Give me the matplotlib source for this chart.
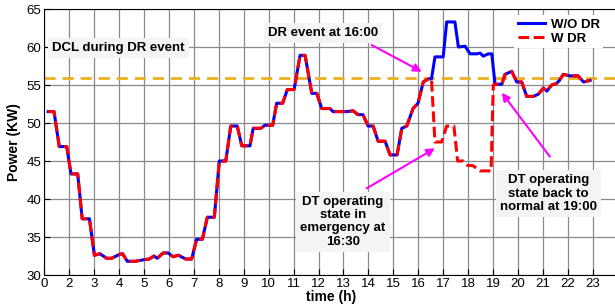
import numpy as np
import matplotlib
matplotlib.use('Agg')
from matplotlib import pyplot as plt

plt.rcParams['font.family'] = ['Liberation Sans', 'DejaVu Sans']

# x values are in axis grid units (one unit per tick label)
t_common1 = [0.16, 0.39, 0.60, 0.90, 1.07, 1.34, 1.52, 1.81, 2.01, 2.23, 2.50, 2.70,
             3.01, 3.14, 3.33, 3.64, 3.97, 4.21, 4.40, 4.53, 4.77, 4.97, 5.17, 5.38,
             5.67, 5.91, 6.11, 6.34, 6.54, 6.82, 7.02, 7.28, 7.48, 7.74, 7.92, 8.25,
             8.38, 8.68, 8.85, 9.16, 9.32, 9.56, 9.75, 10.02, 10.26, 10.46, 10.73, 10.93,
             11.13, 11.46, 11.58, 12.14, 12.39, 12.58, 12.78, 12.99, 13.19, 13.39, 13.67,
             13.87, 14.15, 14.34, 14.54, 14.79, 14.99, 15.20, 15.40, 15.53]
p_common1 = [51.5, 51.5, 46.9, 46.9, 43.3, 43.3, 37.4, 37.4, 32.6, 32.8, 32.2, 32.2,
             32.7, 32.8, 31.8, 31.8, 32.0, 32.1, 32.5, 32.2, 32.9, 32.9, 32.4, 32.6,
             32.1, 32.1, 34.7, 34.7, 37.6, 37.6, 45.0, 45.0, 49.6, 49.6, 47.0, 47.0,
             49.3, 49.3, 49.7, 49.7, 52.6, 52.6, 54.4, 54.4, 58.9, 58.9, 53.9, 53.9,
             51.9, 51.9, 51.5, 51.5, 51.6, 51.1, 51.1, 49.6, 49.6, 47.6, 47.6,
             45.8, 45.8, 49.3, 49.6, 51.9, 52.6, 55.4, 55.8, 55.8]

t_wo_event = [15.67, 16.00, 16.14, 16.47, 16.61, 16.88, 17.08, 17.35, 17.48, 17.61, 17.81, 17.95]
p_wo_event = [58.7, 58.7, 63.3, 63.3, 60.0, 60.1, 59.1, 59.1, 59.2, 58.8, 59.1, 59.1]

t_w_event = [15.67, 15.94, 16.14, 16.43, 16.58, 16.81, 16.99, 17.19, 17.48, 17.80, 17.92, 18.01]
p_w_event = [47.5, 47.5, 49.6, 49.6, 45.0, 45.0, 44.4, 44.4, 43.7, 43.7, 43.7, 55.0]

t_common2 = [18.08, 18.35, 18.48, 18.75, 18.95, 19.15, 19.35, 19.62, 19.82, 20.02, 20.16,
             20.35, 20.55, 20.66, 20.82, 21.09, 21.41, 21.63, 21.89]
p_common2 = [55.1, 55.1, 56.4, 56.8, 55.4, 55.4, 53.5, 53.5, 53.8, 54.6, 54.2,
             55.0, 55.2, 55.6, 56.4, 56.2, 56.2, 55.4, 55.6]

dcl = 55.9
tick_labels = ['0'] + [str(h) for h in range(2, 24)] + ['0']

t_wo = t_common1 + t_wo_event + t_common2
p_wo = p_common1 + p_wo_event + p_common2
t_w = t_common1 + t_w_event + t_common2
p_w = p_common1 + p_w_event + p_common2

fig = plt.figure(figsize=(6.15, 3.08), dpi=100)
ax = fig.add_axes([44.3 / 615, 33 / 308, 573.4 / 615, 266 / 308])

ax.grid(True, color='#8a8a8a', lw=0.9)
ax.set_axisbelow(True)
ax.axhline(dcl, color='#EDB120', lw=2, ls=(0, (4, 2.5)), zorder=2)
ax.plot(t_wo, p_wo, color='#0000ff', lw=2.2, label='W/O DR', zorder=3)
ax.plot(t_w, p_w, color='#ff0000', lw=2.2, ls=(0, (3.5, 1.5)), label='W DR', zorder=4)

ax.set_xlim(0, 23)
ax.set_ylim(30, 65)
ax.set_xticks(np.arange(0, 24))
ax.set_xticklabels(tick_labels)
ax.set_yticks(np.arange(30, 66, 5))
ax.tick_params(direction='in', labelsize=9.5, length=4, pad=2)
ax.set_xlabel('time (h)', fontsize=10, fontweight='bold', labelpad=0)
ax.set_ylabel('Power (KW)', fontsize=10, fontweight='bold', labelpad=4)

box = dict(facecolor='#f4f4f4', edgecolor='none', pad=3)
ax.text(2.96, 59.9, 'DCL during DR event', fontsize=9.5, fontweight='bold',
        ha='center', va='center', bbox=box)
ax.text(11.18, 61.84, 'DR event at 16:00', fontsize=9.5, fontweight='bold',
        ha='center', va='center', bbox=box)
ax.text(11.98, 37.0, 'DT operating\nstate in\nemergency at\n16:30', fontsize=9.5,
        fontweight='bold', ha='center', va='center', linespacing=1.15, bbox=box)
ax.text(20.22, 40.7, 'DT operating\nstate back to\nnormal at 19:00', fontsize=9.5,
        fontweight='bold', ha='center', va='center', linespacing=1.15, bbox=box)

arrow = dict(arrowstyle='-|>', color='#ff00ff', lw=1.5, mutation_scale=12, shrinkA=0, shrinkB=0)
ax.annotate('', xy=(15.14, 56.75), xytext=(13.13, 60.26), arrowprops=arrow)
ax.annotate('', xy=(15.67, 46.67), xytext=(12.93, 41.4), arrowprops=arrow)
ax.annotate('', xy=(18.35, 53.99), xytext=(20.28, 45.57), arrowprops=arrow)

leg = ax.legend(loc='upper right', bbox_to_anchor=(603 / 615, 1 - 15 / 308),
                bbox_transform=fig.transFigure, fontsize=9.5, frameon=True,
                fancybox=False, edgecolor='none', facecolor='white', framealpha=1,
                handlelength=2.1, handletextpad=0.4, borderpad=0.25,
                labelspacing=0.15, borderaxespad=0)
for txt in leg.get_texts():
    txt.set_fontweight('bold')

fig.savefig('out.png', dpi=100)
